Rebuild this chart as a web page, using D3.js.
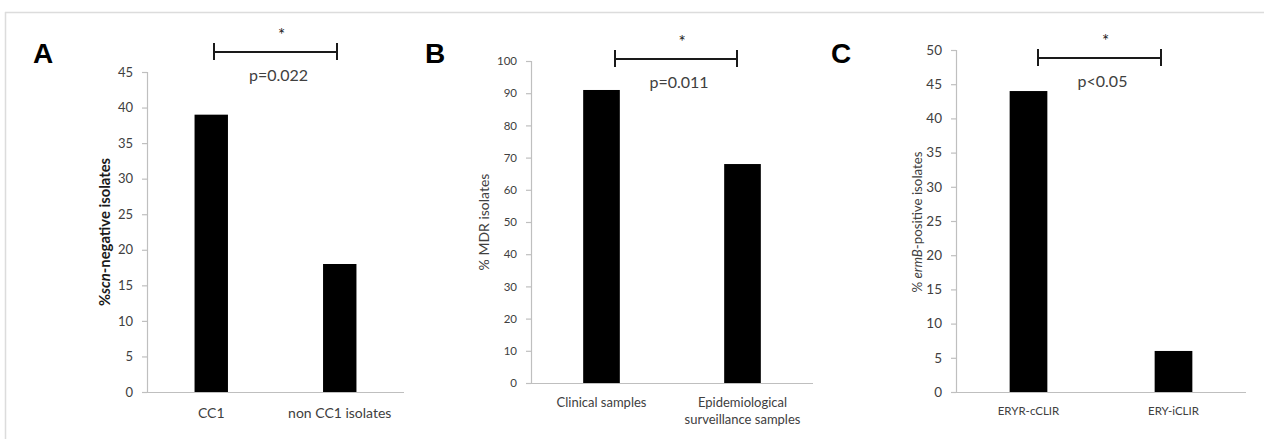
<!DOCTYPE html>
<html><head><meta charset="utf-8">
<script src="https://cdn.jsdelivr.net/npm/d3@7"></script>
<style>
html,body{margin:0;padding:0;background:#fff;}
svg{display:block;}
</style></head>
<body>
<svg id="chart" width="1264" height="439"></svg>
<script>
// ---- data ----
const panelLetters = ["A", "B", "C"];
const categoriesA = ["CC1", "non CC1 isolates"];
const valuesA = [39, 18];
const ticksA = [0, 5, 10, 15, 20, 25, 30, 35, 40, 45];
const categoriesB = ["Clinical samples", "Epidemiological|surveillance samples"];
const valuesB = [91, 68];
const ticksB = [0, 10, 20, 30, 40, 50, 60, 70, 80, 90, 100];
const categoriesC = ["ERYR-cCLIR", "ERY-iCLIR"];
const valuesC = [44, 6];
const ticksC = [0, 5, 10, 15, 20, 25, 30, 35, 40, 45, 50];
const pLabels = ["p=0.022", "p=0.011", "p<0.05"];
const yLabelParts = [
  [["%", false], ["scn", true], ["-negative isolates", false]],
  [["% MDR isolates", false]],
  [["% ", false], ["ermB", true], ["-positive isolates", false]]
];

// ---- layout ----
const FONT = "Lato, 'Open Sans', sans-serif";
const TEXT = "#404040";
const AXIS = "#bfbfbf";
const layouts = [
  {x0:147, x1:404, yTop:72, yBot:392, max:45, tickFs:13, catFs:14, catY:418, ylx:105, yly:232, ylFs:14.8, ylBold:true,
   letterX:33, brX0:214, brX1:337, brY:52, cats:categoriesA, vals:valuesA, ticks:ticksA},
  {x0:531, x1:813, yTop:61, yBot:383, max:100, tickFs:11.5, catFs:13, catY:407, ylx:484, yly:222, ylFs:14, ylBold:false,
   letterX:425, brX0:615, brX1:737, brY:59, cats:categoriesB, vals:valuesB, ticks:ticksB},
  {x0:956, x1:1246, yTop:50, yBot:392, max:50, tickFs:13.5, catFs:11.5, catY:415, ylx:917, yly:222, ylFs:13.3, ylBold:false,
   letterX:831, brX0:1038, brX1:1161, brY:58, cats:categoriesC, vals:valuesC, ticks:ticksC}
];

const svg = d3.select("#chart");
// outer frame lines
svg.append("line").attr("x1", 5).attr("x2", 1264).attr("y1", 12.5).attr("y2", 12.5)
  .attr("stroke", "#dcdcdc").attr("stroke-width", 1.5);
svg.append("line").attr("x1", 5.5).attr("x2", 5.5).attr("y1", 12).attr("y2", 439)
  .attr("stroke", "#dcdcdc").attr("stroke-width", 1.5);

layouts.forEach((L, i) => {
  const g = svg.append("g");
  const x = d3.scaleBand().domain(L.cats).range([L.x0, L.x1]).paddingInner(0.74).paddingOuter(0.37);
  const y = d3.scaleLinear().domain([0, L.max]).range([L.yBot, L.yTop]);

  // y axis
  const ya = g.append("g").attr("transform", `translate(${L.x0},0)`)
    .call(d3.axisLeft(y).tickValues(L.ticks).tickSize(5).tickPadding(9).tickFormat(d3.format("d")));
  ya.select(".domain").attr("stroke", AXIS).attr("stroke-width", 1.2);
  ya.selectAll(".tick line").attr("stroke", AXIS).attr("stroke-width", 1.2);
  ya.selectAll(".tick text").attr("fill", TEXT).attr("font-family", FONT).attr("font-size", L.tickFs);

  // x axis line
  g.append("line").attr("x1", L.x0).attr("x2", L.x1).attr("y1", L.yBot + 0.5).attr("y2", L.yBot + 0.5)
    .attr("stroke", AXIS).attr("stroke-width", 1.2);

  // bars
  g.selectAll("rect.bar").data(L.vals).join("rect").attr("class", "bar")
    .attr("x", (d, j) => x(L.cats[j]))
    .attr("width", x.bandwidth())
    .attr("y", d => y(d))
    .attr("height", d => y(0) - y(d))
    .attr("fill", "#000");

  // category labels
  L.cats.forEach(c => {
    const lines = c.split("|");
    const t = g.append("text").attr("x", x(c) + x.bandwidth() / 2).attr("y", L.catY)
      .attr("text-anchor", "middle").attr("fill", TEXT).attr("font-family", FONT).attr("font-size", L.catFs);
    lines.forEach((ln, k) => t.append("tspan").attr("x", x(c) + x.bandwidth() / 2).attr("dy", k === 0 ? 0 : 17).text(ln));
  });

  // y label
  const yl = g.append("text").attr("transform", `translate(${L.ylx},${L.yly}) rotate(-90)`)
    .attr("text-anchor", "middle").attr("dy", "0.35em").attr("fill", L.ylBold ? "#1a1a1a" : TEXT)
    .attr("font-family", FONT).attr("font-size", L.ylFs).attr("font-weight", L.ylBold ? "bold" : "normal");
  yLabelParts[i].forEach(([s, it]) => yl.append("tspan").attr("font-style", it ? "italic" : "normal").text(s));

  // panel letter
  g.append("text").attr("x", L.letterX).attr("y", 63).attr("font-family", "'Liberation Sans', Arial, sans-serif")
    .attr("font-weight", "bold").attr("font-size", 28).attr("fill", "#000").text(panelLetters[i]);

  // significance bracket
  const br = g.append("g").attr("stroke", "#1a1a1a").attr("stroke-width", 2);
  br.append("line").attr("x1", L.brX0).attr("x2", L.brX1).attr("y1", L.brY).attr("y2", L.brY);
  br.append("line").attr("x1", L.brX0).attr("x2", L.brX0).attr("y1", L.brY - 9).attr("y2", L.brY + 8);
  br.append("line").attr("x1", L.brX1).attr("x2", L.brX1).attr("y1", L.brY - 9).attr("y2", L.brY + 8);
  const cx = (L.brX0 + L.brX1) / 2;
  g.append("text").attr("x", cx + 6).attr("y", L.brY - 11).attr("text-anchor", "middle")
    .attr("font-family", FONT).attr("font-size", 17).attr("fill", "#1a1a1a").text("*");
  g.append("text").attr("x", cx + 3).attr("y", L.brY + 29).attr("text-anchor", "middle")
    .attr("font-family", FONT).attr("font-size", 16).attr("fill", TEXT).text(pLabels[i]);
});
</script>
</body></html>
